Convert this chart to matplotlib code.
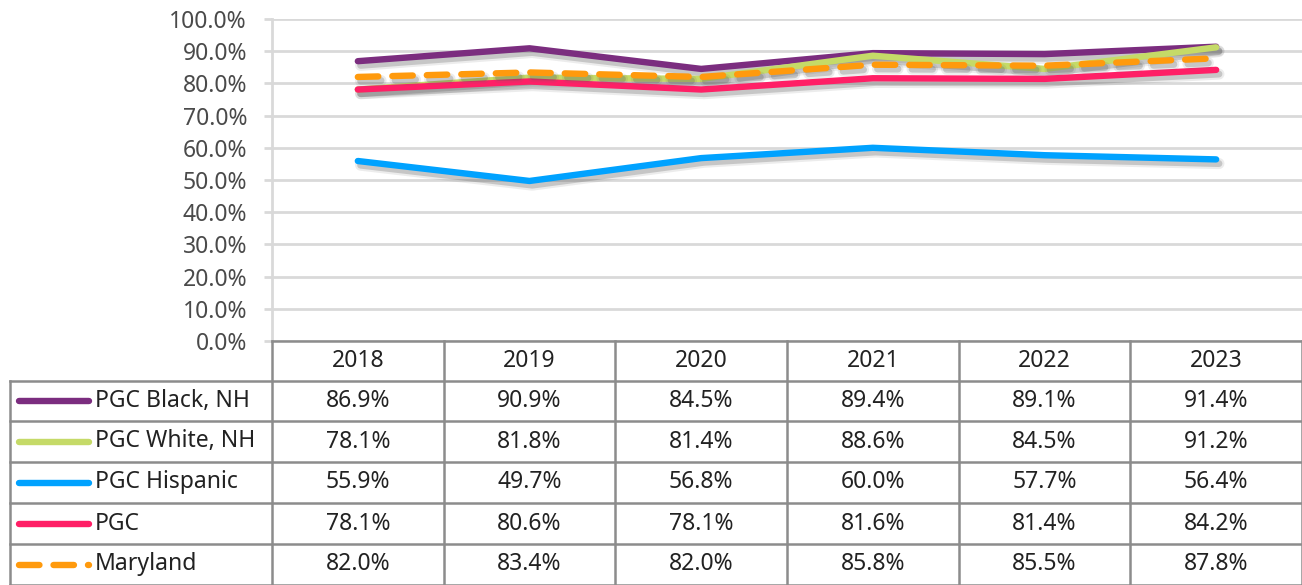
import matplotlib
matplotlib.use("Agg")
import matplotlib.pyplot as plt
import matplotlib.patheffects as pe

years = ["2018", "2019", "2020", "2021", "2022", "2023"]
series_names = ["PGC Black, NH", "PGC White, NH", "PGC Hispanic", "PGC", "Maryland"]
black_nh = [86.9, 90.9, 84.5, 89.4, 89.1, 91.4]
white_nh = [78.1, 81.8, 81.4, 88.6, 84.5, 91.2]
hispanic = [55.9, 49.7, 56.8, 60.0, 57.7, 56.4]
pgc = [78.1, 80.6, 78.1, 81.6, 81.4, 84.2]
maryland = [82.0, 83.4, 82.0, 85.8, 85.5, 87.8]
all_values = [black_nh, white_nh, hispanic, pgc, maryland]

colors = ["#7B2D7F", "#C5DA68", "#00A2FF", "#FF1F66", "#FF9A0D"]
styles = ["-", "-", "-", "-", (0, (3.2, 2.2))]

plt.rcParams["font.family"] = ["Noto Sans", "DejaVu Sans"]
W, H = 1302, 585
fig = plt.figure(figsize=(W / 100, H / 100), dpi=100)

# plot area in pixel terms
x0, x1, ytop, ybot = 272, 1302, 19, 341
ax = fig.add_axes([x0 / W, (H - ybot) / H, (x1 - x0) / W, (ybot - ytop) / H])
ax.set_xlim(0, len(years))
ax.set_ylim(0, 100)
ax.set_yticks(range(0, 101, 10))
ax.set_yticklabels([f"{v:.1f}%" for v in range(0, 101, 10)], fontsize=16.5, color="#4a4a4a")
ax.set_xticks([])
ax.grid(axis="y", color="#d9d9d9", linewidth=2)
ax.set_axisbelow(True)
for s in ["top", "right", "bottom"]:
    ax.spines[s].set_visible(False)
ax.spines["left"].set_color("#d9d9d9")
ax.spines["left"].set_linewidth(2)
ax.tick_params(axis="y", length=6, width=2, color="#d9d9d9", pad=12)

xs = [i + 0.5 for i in range(len(years))]
shadow = [pe.SimpleLineShadow(offset=(2, -3), shadow_color="#666666", alpha=0.12, linewidth=8),
          pe.SimpleLineShadow(offset=(2, -3), shadow_color="#555555", alpha=0.25, linewidth=5),
          pe.Normal()]
for name, vals, c, ls in zip(series_names, all_values, colors, styles):
    ax.plot(xs, vals, color=c, linewidth=4.6, linestyle=ls, solid_capstyle="round",
            dash_capstyle="round", solid_joinstyle="round", path_effects=shadow, clip_on=False)

# data table drawn below the plot
tax = fig.add_axes([0, 0, 1, 1])
tax.set_xlim(0, W)
tax.set_ylim(H, 0)
tax.axis("off")
col_edges = [272 + i * (1302 - 272) / 6 for i in range(7)]
row_edges = [341, 381, 421, 462, 503, 544, 585]
lc = "#8c8c8c"
lw = 1.8
tax.plot([272, 1302], [341, 341], color=lc, lw=lw)
for y in row_edges[1:]:
    tax.plot([10, 1302], [y, y], color=lc, lw=lw)
for x in col_edges:
    tax.plot([x, x], [341, 585], color=lc, lw=lw)
tax.plot([10, 10], [381, 585], color=lc, lw=lw)

tc = "#222222"
fs = 16.5
for j, yr in enumerate(years):
    cx = (col_edges[j] + col_edges[j + 1]) / 2
    tax.text(cx, (row_edges[0] + row_edges[1]) / 2, yr, ha="center", va="center",
             fontsize=fs, color=tc)
for i, (name, vals, c, ls) in enumerate(zip(series_names, all_values, colors, styles)):
    cy = (row_edges[i + 1] + row_edges[i + 2]) / 2
    tax.plot([19, 89], [cy, cy], color=c, lw=4.6, linestyle=ls, solid_capstyle="round",
             dash_capstyle="round")
    tax.text(95, cy, name, ha="left", va="center", fontsize=fs, color=tc)
    for j, v in enumerate(vals):
        cx = (col_edges[j] + col_edges[j + 1]) / 2
        tax.text(cx, cy, f"{v:.1f}%", ha="center", va="center", fontsize=fs, color=tc)

fig.savefig("out.png", dpi=100)
